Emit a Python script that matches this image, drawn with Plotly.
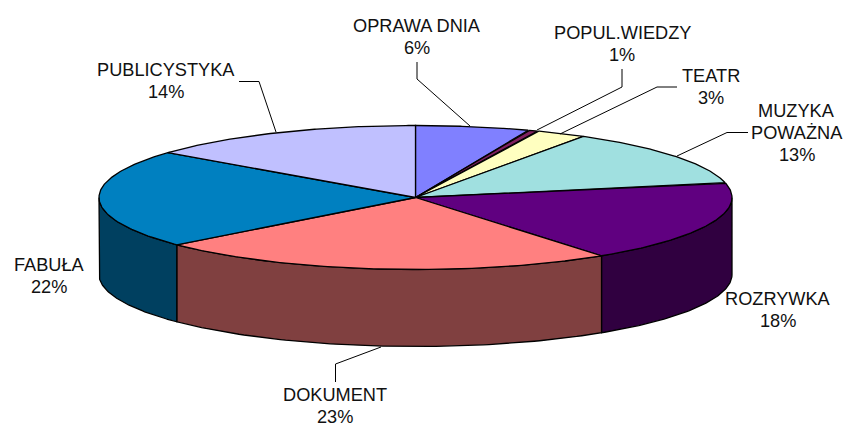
import numpy as np
import plotly.graph_objects as go

categories = ["OPRAWA DNIA", "POPUL.WIEDZY", "TEATR", "MUZYKA<br>POWAŻNA",
              "ROZRYWKA", "DOKUMENT", "FABUŁA", "PUBLICYSTYKA"]
values = [5.8, 0.5, 2.6, 12.8, 18.3, 23.6, 22.1, 14.3]
percent_labels = ["6%", "1%", "3%", "13%", "18%", "23%", "22%", "14%"]
top_colors = ["#8080FF", "#802060", "#FFFFC0", "#A0E0E0",
              "#600080", "#FF8080", "#0080C0", "#C0C0FF"]
side_colors = ["#404080", "#401030", "#808060", "#507070",
               "#300040", "#804040", "#004060", "#606080"]

# label placement: centre x, y of first line
label_pos = [(416.5, 25.5), (622, 32.5), (710.5, 75.5), (796.5, 110.5),
             (778, 298.5), (335, 394.5), (49, 264.5), (166, 69.5)]
# leader polylines in page pixels, label end first, elbow, slice end
leaders = [
    [(417, 62), (417, 79), (470, 126)],
    [(622, 69), (622, 87), (537, 130)],
    [(677, 87), (657, 87), (560, 134)],
    [(748, 132.5), (727, 132.5), (677, 156)],
    [(335.5, 382), (335.5, 364), (381, 347)],
    [(239, 81.5), (259, 81.5), (276, 132)],
]

CX, CY, RX, RY, DEPTH = 415.5, 197.5, 316.5, 72, 77
LINE_H = 22


def ex(t):
    return CX + RX * np.sin(t)


def ey(t, dz=0):
    return CY - RY * np.cos(t) + dz


fig = go.Figure()
cum = np.cumsum([0] + values) / sum(values) * 2 * np.pi
edge = dict(color="black", width=1.3)

# side walls (front half of the ellipse only)
for i in range(len(values)):
    a, b = max(cum[i], np.pi / 2), min(cum[i + 1], 3 * np.pi / 2)
    if b <= a:
        continue
    t = np.linspace(a, b, 80)
    xs = np.r_[ex(t), ex(t[::-1]), ex(t[0])]
    ys = np.r_[ey(t), ey(t[::-1], DEPTH), ey(t[0])]
    fig.add_trace(go.Scatter(x=xs, y=ys, mode="lines", fill="toself",
                             fillcolor=side_colors[i], line=edge, hoverinfo="skip"))

# top faces
for i in range(len(values)):
    t = np.linspace(cum[i], cum[i + 1], 120)
    xs = np.r_[CX, ex(t), CX]
    ys = np.r_[CY, ey(t), CY]
    fig.add_trace(go.Scatter(x=xs, y=ys, mode="lines", fill="toself",
                             fillcolor=top_colors[i], line=edge,
                             name=categories[i], hoverinfo="name"))

# leader lines
for pts in leaders:
    fig.add_trace(go.Scatter(x=[p[0] for p in pts], y=[p[1] for p in pts], mode="lines",
                             line=dict(color="black", width=1), hoverinfo="skip"))

# labels
for name, pct, (x, y) in zip(categories, percent_labels, label_pos):
    for j, line in enumerate(name.split("<br>") + [pct]):
        fig.add_annotation(x=x, y=y + j * LINE_H, text=line, showarrow=False,
                           xanchor="center", yanchor="middle",
                           font=dict(family="Liberation Sans", size=18.2, color="#111111"))

fig.update_layout(
    width=844, height=424, margin=dict(l=0, r=0, t=0, b=0),
    paper_bgcolor="white", plot_bgcolor="white", showlegend=False,
    xaxis=dict(range=[0, 844], visible=False, fixedrange=True),
    yaxis=dict(range=[424, 0], visible=False, fixedrange=True),
)
fig.write_html("out.html", post_script="document.body.style.margin='0';",
               config={"displayModeBar": False})
